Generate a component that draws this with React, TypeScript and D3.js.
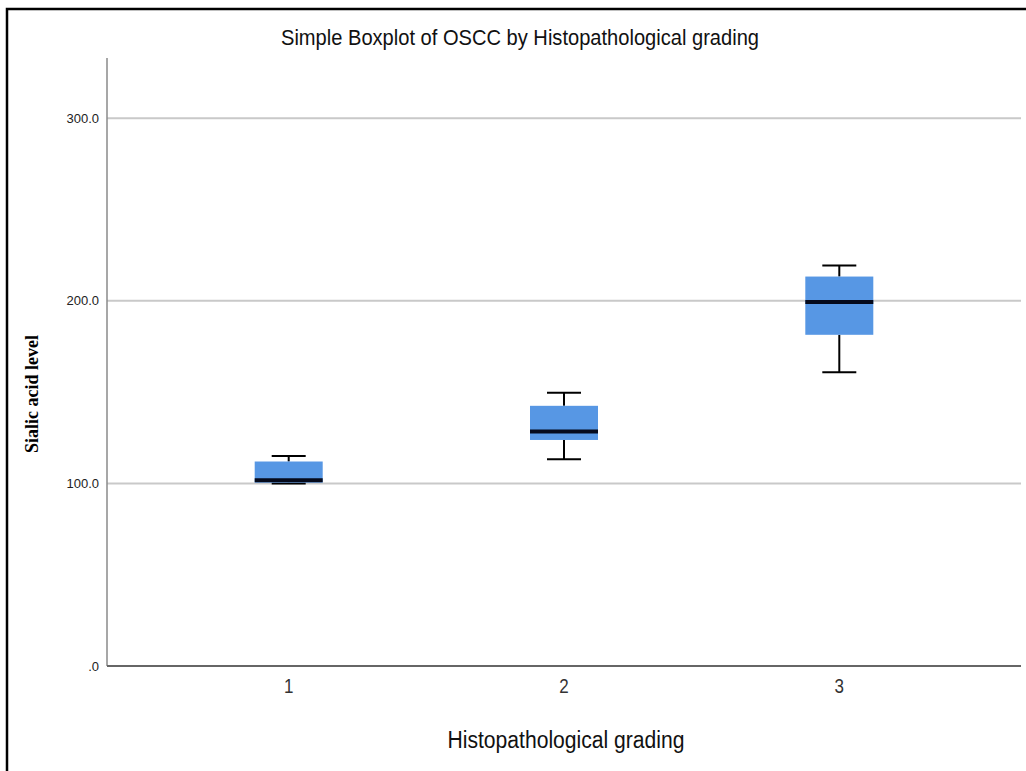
import React from 'react';
import * as d3 from 'd3';

// --- data ---
const grades = ['1', '2', '3'];
const whiskerLow = [100.0, 113.3, 160.9];
const q1 = [100.4, 123.8, 181.4];
const median = [101.7, 128.4, 199.3];
const q3 = [112.0, 142.5, 213.3];
const whiskerHigh = [115.0, 149.6, 219.3];
const yTicks = [0, 100, 200, 300];
const yTickLabels = ['.0', '100.0', '200.0', '300.0'];

const W = 1026;
const H = 771;
const plot = { left: 107, right: 1021, top: 58, bottom: 666 };
const sans = '"Liberation Sans", Arial, sans-serif';

const App = () => {
  const x = d3.scalePoint<string>().domain(grades).range([plot.left, plot.right]).padding(0.66);
  const y = d3.scaleLinear().domain([0, 333]).range([plot.bottom, plot.top]);
  const boxW = 68;
  const capW = 34;

  return (
    <svg width={W} height={H} style={{ position: 'absolute', left: 0, top: 0, background: '#fff' }}>
      <rect x={0} y={0} width={W} height={H} fill="#fff" />
      {/* outer frame, cut off at right and bottom like the screenshot */}
      <path d={`M7,${H} V9 H${W}`} fill="none" stroke="#000" strokeWidth={2.5} />

      <text x={520} y={45} textAnchor="middle" fontFamily={sans} fontSize={22} fill="#111"
        textLength={478} lengthAdjust="spacingAndGlyphs">
        Simple Boxplot of OSCC by Histopathological grading
      </text>

      {/* gridlines */}
      {yTicks.filter(t => t > 0).map(t => (
        <line key={t} x1={plot.left} x2={plot.right} y1={y(t)} y2={y(t)} stroke="#c9c9c9" strokeWidth={2} />
      ))}

      {/* axes */}
      <line x1={plot.left} x2={plot.left} y1={plot.top} y2={plot.bottom} stroke="#8a8a8a" strokeWidth={1.5} />
      <line x1={plot.left} x2={plot.right} y1={plot.bottom} y2={plot.bottom} stroke="#666" strokeWidth={2} />

      {yTicks.map((t, i) => (
        <text key={t} x={99} y={y(t)} dy="0.35em" textAnchor="end" fontFamily={sans} fontSize={13} fill="#222">
          {yTickLabels[i]}
        </text>
      ))}

      {grades.map(g => (
        <text key={g} transform={`translate(${x(g)},693) scale(0.85,1)`} textAnchor="middle"
          fontFamily={sans} fontSize={20} fill="#333">
          {g}
        </text>
      ))}

      <text x={566} y={748} textAnchor="middle" fontFamily={sans} fontSize={23} fill="#111"
        textLength={237} lengthAdjust="spacingAndGlyphs">
        Histopathological grading
      </text>

      <text
        transform="translate(38,394) rotate(-90)"
        textAnchor="middle"
        fontFamily='"Liberation Serif", "Times New Roman", serif'
        fontWeight="bold"
        fontSize={18}
        fill="#000"
      >
        Sialic acid level
      </text>

      {/* boxes */}
      {grades.map((g, i) => {
        const cx = x(g) as number;
        return (
          <g key={g}>
            <line x1={cx} x2={cx} y1={y(whiskerHigh[i])} y2={y(q3[i])} stroke="#000" strokeWidth={2} />
            <line x1={cx} x2={cx} y1={y(q1[i])} y2={y(whiskerLow[i])} stroke="#000" strokeWidth={2} />
            <line x1={cx - capW / 2} x2={cx + capW / 2} y1={y(whiskerHigh[i])} y2={y(whiskerHigh[i])} stroke="#000" strokeWidth={2} />
            <line x1={cx - capW / 2} x2={cx + capW / 2} y1={y(whiskerLow[i])} y2={y(whiskerLow[i])} stroke="#000" strokeWidth={2} />
            <rect x={cx - boxW / 2} y={y(q3[i])} width={boxW} height={y(q1[i]) - y(q3[i])} fill="#5797e4" />
            <line x1={cx - boxW / 2} x2={cx + boxW / 2} y1={y(median[i])} y2={y(median[i])} stroke="#050a1c" strokeWidth={4} />
          </g>
        );
      })}
    </svg>
  );
};

export default App;
